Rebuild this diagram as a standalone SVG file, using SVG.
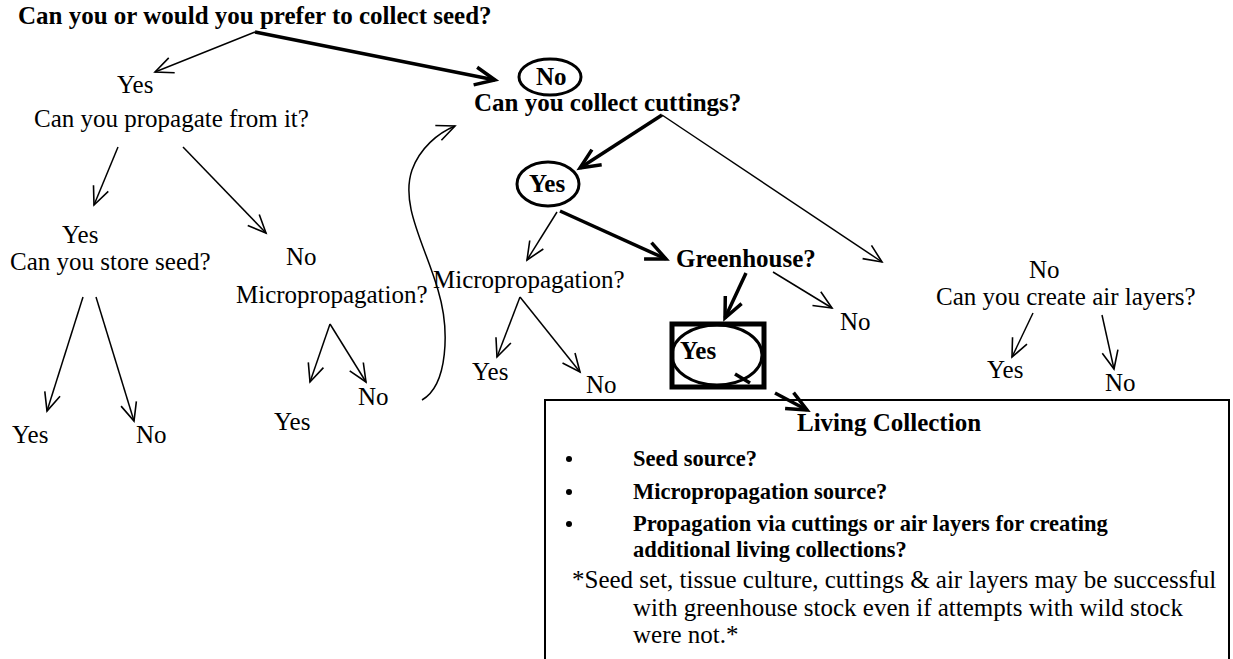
<svg xmlns="http://www.w3.org/2000/svg" width="1233" height="659" viewBox="0 0 1233 659">
  <style>
    text { font-family: "Liberation Serif", "Times New Roman", serif; fill: #000; }
    .q { font-size: 25px; }
    .b { font-size: 25px; font-weight: bold; }
    .sb { font-size: 22.5px; font-weight: bold; }
    .thin { stroke: #000; stroke-width: 1.5; fill: none; marker-end: url(#openThin); }
    .thick { stroke: #000; stroke-width: 3.5; fill: none; marker-end: url(#openThick); }
    .ring { stroke: #000; stroke-width: 3; fill: none; }
  </style>
  <defs>
    <marker id="openThin" markerUnits="userSpaceOnUse" markerWidth="24" markerHeight="24" viewBox="-2 -12 24 24" refX="18" refY="0" orient="auto">
      <path d="M0,-8 L18,0 L0,8" fill="none" stroke="#000" stroke-width="1.6"/>
    </marker>
    <marker id="openThick" markerUnits="userSpaceOnUse" markerWidth="28" markerHeight="28" viewBox="-2 -14 28 28" refX="20" refY="0" orient="auto">
      <path d="M0,-9 L20,0 L0,9" fill="none" stroke="#000" stroke-width="3.5"/>
    </marker>
  </defs>

  <rect width="1233" height="659" fill="#fff"/>

  <!-- connectors -->
  <g id="connectors">
    <line class="thin" x1="255" y1="32" x2="155" y2="72"/>
    <line class="thick" x1="255" y1="32" x2="495" y2="80"/>
    <line class="thin" x1="118" y1="147" x2="94" y2="205"/>
    <line class="thin" x1="183" y1="147" x2="266" y2="233"/>
    <line class="thin" x1="83" y1="297" x2="47" y2="411"/>
    <line class="thin" x1="96" y1="297" x2="134" y2="421"/>
    <line class="thin" x1="330" y1="324" x2="310" y2="382"/>
    <line class="thin" x1="330" y1="324" x2="366" y2="382"/>
    <path class="thin" d="M422,400 C448,385 450,330 438,290 C425,245 400,205 412,170 C420,148 438,133 455,126"/>
    <line class="thick" x1="662" y1="115" x2="580" y2="168"/>
    <line class="thin" x1="662" y1="115" x2="882" y2="262"/>
    <line class="thin" x1="557" y1="212" x2="527" y2="260"/>
    <line class="thick" x1="560" y1="211" x2="666" y2="259"/>
    <line class="thin" x1="520" y1="297" x2="497" y2="357"/>
    <line class="thin" x1="520" y1="297" x2="580" y2="372"/>
    <line class="thick" x1="746" y1="273" x2="725" y2="318"/>
    <line class="thin" x1="773" y1="272" x2="832" y2="308"/>
    <line stroke="#000" stroke-width="3.5" x1="735" y1="374" x2="750" y2="383"/>
    <line class="thick" x1="775" y1="393" x2="807" y2="410"/>
    <line class="thin" x1="1033" y1="313" x2="1012" y2="357"/>
    <line class="thin" x1="1102" y1="315" x2="1114" y2="369"/>
  </g>

  <!-- seed question -->
  <g id="seed-question">
    <text class="b" x="18" y="24">Can you or would you prefer to collect seed?</text>
  </g>
  <g id="seed-yes">
    <text class="q" x="117" y="93">Yes</text>
    <text class="q" x="34" y="127">Can you propagate from it?</text>
  </g>
  <g id="store-seed">
    <text class="q" x="62" y="243">Yes</text>
    <text class="q" x="10" y="270">Can you store seed?</text>
  </g>
  <g id="store-yes"><text class="q" x="12" y="443">Yes</text></g>
  <g id="store-no"><text class="q" x="136" y="443">No</text></g>
  <g id="micro-left">
    <text class="q" x="286" y="265">No</text>
    <text class="q" x="236" y="303">Micropropagation?</text>
  </g>
  <g id="micro-left-yes"><text class="q" x="274" y="430">Yes</text></g>
  <g id="micro-left-no"><text class="q" x="358" y="405">No</text></g>

  <!-- cuttings branch -->
  <g id="cuttings">
    <ellipse class="ring" cx="550" cy="77" rx="31" ry="18"/>
    <text class="b" x="536" y="85">No</text>
    <text class="b" x="474" y="111">Can you collect cuttings?</text>
  </g>
  <g id="cuttings-yes">
    <ellipse class="ring" cx="548" cy="184" rx="31" ry="22"/>
    <text class="b" x="529" y="192">Yes</text>
  </g>
  <g id="micro-mid">
    <text class="q" x="433" y="288">Micropropagation?</text>
  </g>
  <g id="micro-mid-yes"><text class="q" x="472" y="380">Yes</text></g>
  <g id="micro-mid-no"><text class="q" x="586" y="393">No</text></g>
  <g id="greenhouse">
    <text class="b" x="676" y="267">Greenhouse?</text>
  </g>
  <g id="greenhouse-no"><text class="q" x="840" y="330">No</text></g>
  <g id="greenhouse-yes">
    <rect x="672" y="324" width="92" height="63" fill="none" stroke="#000" stroke-width="5"/>
    <ellipse class="ring" cx="717" cy="355" rx="45" ry="30"/>
    <text class="b" x="680" y="359">Yes</text>
  </g>
  <g id="air-layers">
    <text class="q" x="1029" y="278">No</text>
    <text class="q" x="936" y="305">Can you create air layers?</text>
  </g>
  <g id="air-yes"><text class="q" x="987" y="378">Yes</text></g>
  <g id="air-no"><text class="q" x="1105" y="391">No</text></g>

  <!-- living collection panel -->
  <g id="living-collection">
    <path d="M545,661 L545,400 L1229,400 L1229,661" fill="none" stroke="#000" stroke-width="2"/>
    <text class="b" x="797" y="431">Living Collection</text>
    <circle cx="569" cy="459" r="3"/>
    <circle cx="569" cy="492" r="3"/>
    <circle cx="569" cy="524" r="3"/>
    <text class="sb" x="633" y="466">Seed source?</text>
    <text class="sb" x="633" y="499">Micropropagation source?</text>
    <text class="sb" x="633" y="531">Propagation via cuttings or air layers for creating</text>
    <text class="sb" x="633" y="557">additional living collections?</text>
    <text class="q" x="572" y="588">*Seed set, tissue culture, cuttings &amp; air layers may be successful</text>
    <text class="q" x="633" y="616">with greenhouse stock even if attempts with wild stock</text>
    <text class="q" x="633" y="643">were not.*</text>
  </g>
</svg>
